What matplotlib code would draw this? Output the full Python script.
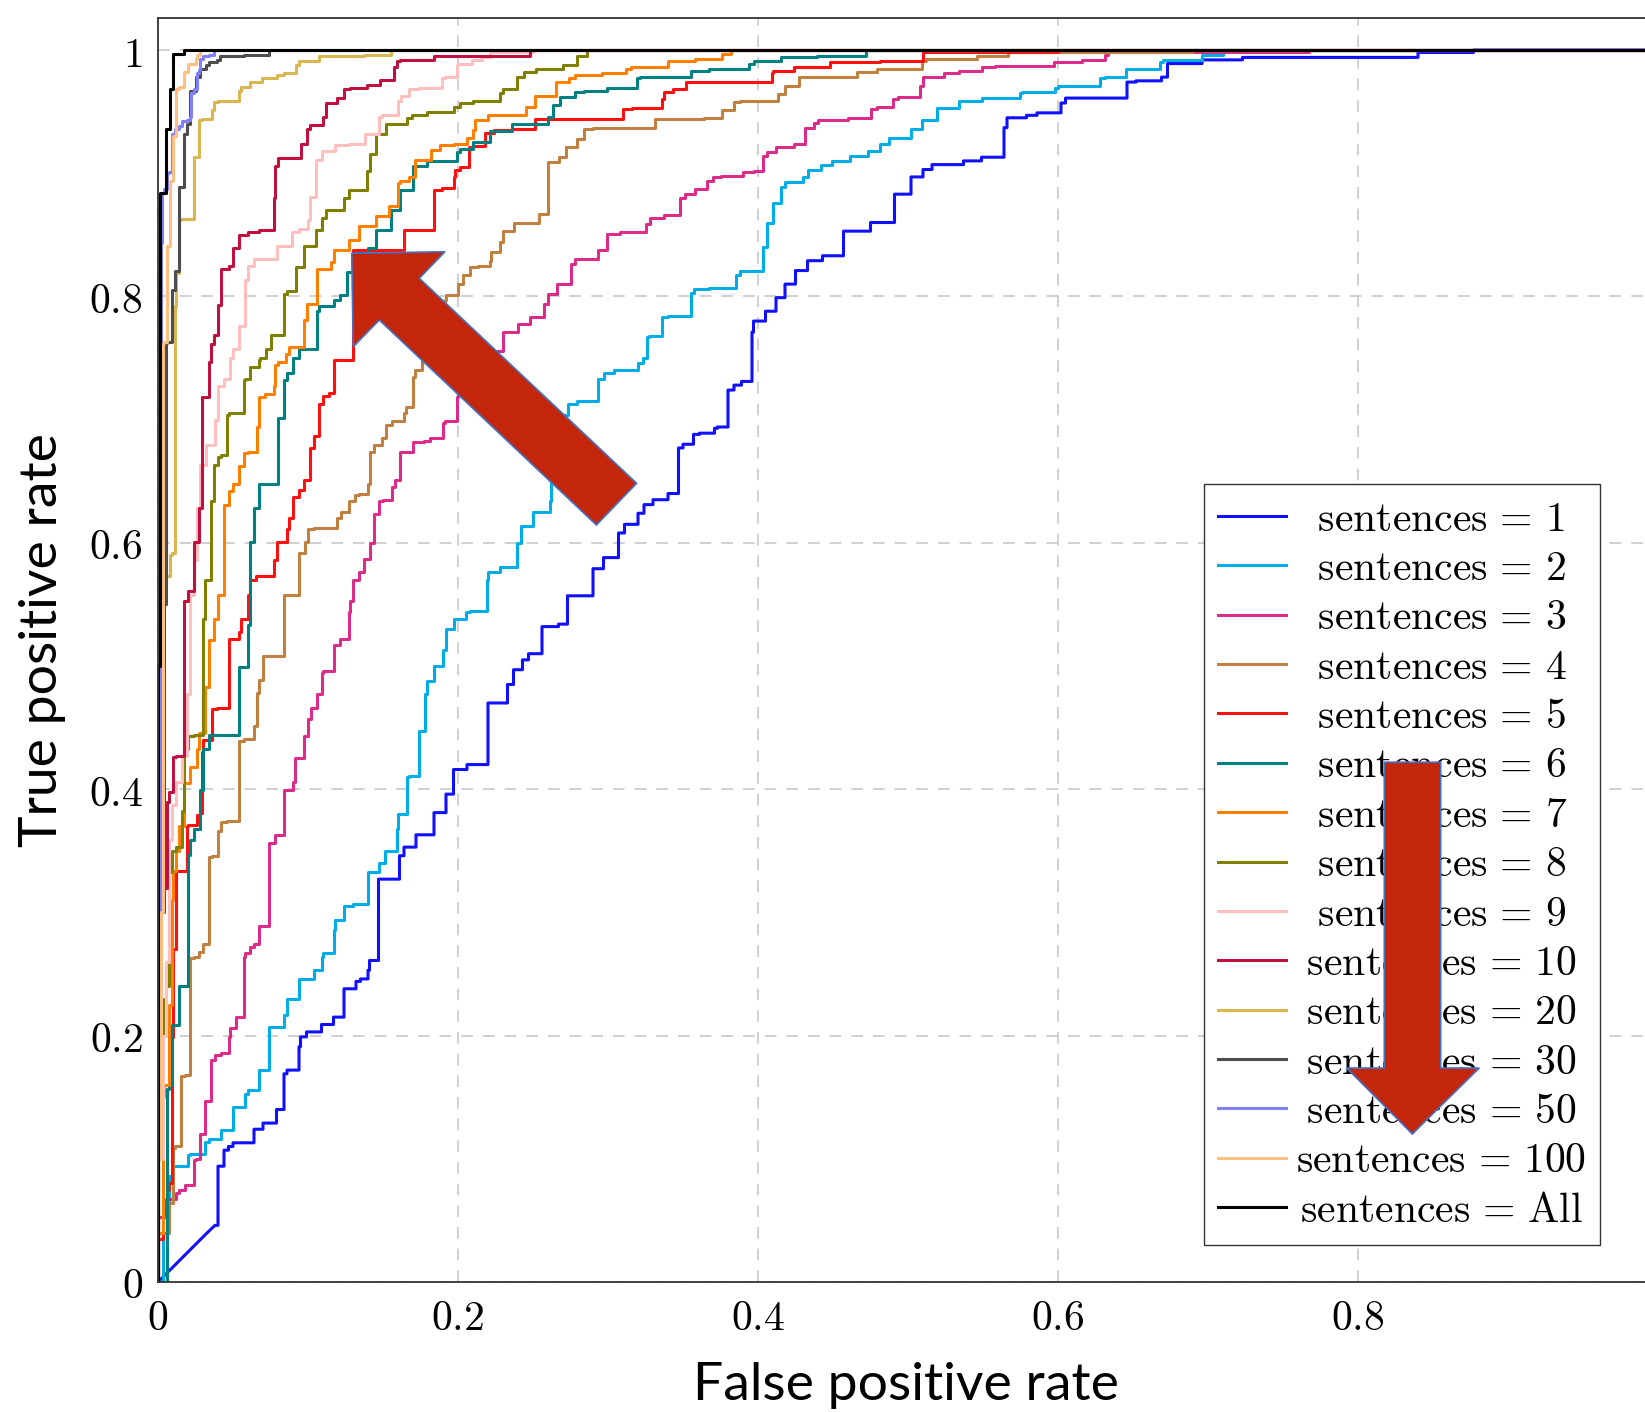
import matplotlib
matplotlib.use('Agg')
import matplotlib.pyplot as plt
import numpy as np
from matplotlib.patches import Polygon

plt.rcParams['mathtext.fontset'] = 'cm'

# ROC curves, (false positive rate, true positive rate) vertices
roc_1 = [(0, 0), (0.032, 0.039), (0.038, 0.046), (0.040, 0.046), (0.040, 0.083), (0.044, 0.094), (0.047, 0.107),
         (0.050, 0.110), (0.064, 0.113), (0.070, 0.124), (0.079, 0.129), (0.084, 0.140), (0.086, 0.169), (0.094, 0.172),
         (0.095, 0.191), (0.099, 0.199), (0.109, 0.203), (0.117, 0.209), (0.124, 0.215), (0.124, 0.226), (0.132, 0.238),
         (0.135, 0.244), (0.140, 0.246), (0.141, 0.253), (0.147, 0.261), (0.147, 0.294), (0.149, 0.327), (0.161, 0.327),
         (0.164, 0.346), (0.172, 0.353), (0.184, 0.363), (0.192, 0.381), (0.197, 0.396), (0.206, 0.416), (0.220, 0.420),
         (0.220, 0.465), (0.233, 0.470), (0.237, 0.485), (0.243, 0.497), (0.247, 0.505), (0.256, 0.510), (0.256, 0.521),
         (0.267, 0.532), (0.273, 0.534), (0.273, 0.554), (0.290, 0.557), (0.290, 0.577), (0.297, 0.579), (0.299, 0.588),
         (0.307, 0.588), (0.307, 0.600), (0.311, 0.608), (0.320, 0.615), (0.324, 0.624), (0.330, 0.631), (0.340, 0.635),
         (0.347, 0.640), (0.347, 0.671), (0.350, 0.677), (0.357, 0.680), (0.361, 0.688), (0.371, 0.689), (0.373, 0.693),
         (0.380, 0.694), (0.380, 0.715), (0.384, 0.724), (0.389, 0.728), (0.396, 0.731), (0.397, 0.771), (0.405, 0.780),
         (0.412, 0.788), (0.418, 0.799), (0.425, 0.810), (0.433, 0.821), (0.443, 0.829), (0.457, 0.833), (0.457, 0.848),
         (0.475, 0.853), (0.484, 0.860), (0.491, 0.860), (0.491, 0.875), (0.502, 0.883), (0.510, 0.897), (0.516, 0.903),
         (0.537, 0.907), (0.549, 0.910), (0.564, 0.913), (0.566, 0.937), (0.579, 0.945), (0.586, 0.947), (0.602, 0.949),
         (0.605, 0.957), (0.616, 0.961), (0.646, 0.961), (0.646, 0.967), (0.652, 0.974), (0.669, 0.975), (0.673, 0.978),
         (0.673, 0.989), (0.696, 0.989), (0.697, 0.992), (0.723, 0.992), (0.728, 0.994), (0.840, 0.994), (0.840, 0.998),
         (0.877, 0.998), (0.880, 1.0), (1.0, 1.0)]
roc_2 = [(0, 0), (0.003, 0.0), (0.005, 0.040), (0.007, 0.040), (0.010, 0.086), (0.020, 0.094), (0.021, 0.103),
         (0.031, 0.104), (0.034, 0.114), (0.042, 0.116), (0.045, 0.123), (0.050, 0.123), (0.050, 0.140), (0.058, 0.142),
         (0.060, 0.153), (0.067, 0.156), (0.074, 0.172), (0.074, 0.202), (0.078, 0.207), (0.084, 0.207), (0.086, 0.217),
         (0.086, 0.229), (0.094, 0.230), (0.094, 0.244), (0.104, 0.246), (0.109, 0.253), (0.110, 0.264), (0.117, 0.267),
         (0.118, 0.286), (0.124, 0.294), (0.130, 0.305), (0.140, 0.307), (0.140, 0.327), (0.147, 0.333), (0.151, 0.340),
         (0.159, 0.350), (0.160, 0.368), (0.166, 0.380), (0.167, 0.410), (0.174, 0.411), (0.174, 0.446), (0.178, 0.447),
         (0.179, 0.477), (0.184, 0.488), (0.190, 0.500), (0.192, 0.513), (0.197, 0.530), (0.205, 0.538), (0.208, 0.544),
         (0.219, 0.545), (0.220, 0.570), (0.228, 0.576), (0.239, 0.580), (0.242, 0.600), (0.250, 0.614), (0.252, 0.625),
         (0.261, 0.625), (0.262, 0.634), (0.264, 0.651), (0.268, 0.680), (0.273, 0.704), (0.279, 0.713), (0.293, 0.715),
         (0.297, 0.733), (0.304, 0.738), (0.320, 0.740), (0.323, 0.746), (0.326, 0.750), (0.327, 0.767), (0.336, 0.768),
         (0.340, 0.783), (0.355, 0.784), (0.357, 0.803), (0.367, 0.806), (0.385, 0.807), (0.388, 0.817), (0.403, 0.821),
         (0.406, 0.840), (0.410, 0.860), (0.415, 0.876), (0.418, 0.889), (0.430, 0.893), (0.433, 0.897), (0.442, 0.903),
         (0.449, 0.907), (0.461, 0.910), (0.473, 0.914), (0.481, 0.918), (0.487, 0.924), (0.502, 0.929), (0.509, 0.936),
         (0.519, 0.943), (0.534, 0.953), (0.549, 0.959), (0.561, 0.961), (0.575, 0.961), (0.576, 0.965), (0.598, 0.966),
         (0.600, 0.969), (0.609, 0.971), (0.628, 0.971), (0.631, 0.977), (0.645, 0.978), (0.646, 0.985), (0.668, 0.985),
         (0.670, 0.990), (0.696, 0.992), (0.696, 0.994), (0.710, 0.996), (0.712, 1.0), (1.0, 1.0)]
roc_3 = [(0, 0), (0.005, 0.053), (0.012, 0.067), (0.014, 0.072), (0.018, 0.075), (0.021, 0.079), (0.024, 0.079),
         (0.025, 0.099), (0.028, 0.100), (0.028, 0.119), (0.031, 0.120), (0.031, 0.146), (0.035, 0.147), (0.035, 0.160),
         (0.038, 0.180), (0.042, 0.184), (0.047, 0.186), (0.048, 0.199), (0.052, 0.206), (0.055, 0.215), (0.057, 0.215),
         (0.058, 0.264), (0.061, 0.267), (0.064, 0.272), (0.067, 0.274), (0.067, 0.286), (0.074, 0.289), (0.074, 0.346),
         (0.078, 0.356), (0.080, 0.363), (0.084, 0.363), (0.084, 0.387), (0.090, 0.399), (0.091, 0.406), (0.097, 0.425),
         (0.100, 0.443), (0.102, 0.457), (0.106, 0.466), (0.109, 0.477), (0.110, 0.494), (0.117, 0.496), (0.117, 0.513),
         (0.121, 0.517), (0.127, 0.522), (0.128, 0.544), (0.130, 0.553), (0.134, 0.570), (0.137, 0.576), (0.141, 0.587),
         (0.144, 0.600), (0.147, 0.623), (0.150, 0.634), (0.156, 0.635), (0.158, 0.645), (0.161, 0.651), (0.161, 0.662),
         (0.170, 0.674), (0.177, 0.682), (0.181, 0.683), (0.190, 0.685), (0.191, 0.697), (0.199, 0.699), (0.200, 0.718),
         (0.215, 0.735), (0.230, 0.756), (0.240, 0.771), (0.248, 0.778), (0.257, 0.783), (0.260, 0.794), (0.266, 0.802),
         (0.275, 0.810), (0.278, 0.826), (0.293, 0.830), (0.299, 0.838), (0.308, 0.851), (0.325, 0.852), (0.328, 0.859),
         (0.337, 0.864), (0.348, 0.866), (0.351, 0.880), (0.358, 0.883), (0.366, 0.887), (0.370, 0.894), (0.375, 0.897),
         (0.390, 0.898), (0.397, 0.901), (0.403, 0.902), (0.406, 0.914), (0.412, 0.917), (0.424, 0.921), (0.431, 0.924),
         (0.431, 0.935), (0.437, 0.937), (0.440, 0.941), (0.460, 0.943), (0.475, 0.945), (0.479, 0.952), (0.490, 0.954),
         (0.493, 0.960), (0.508, 0.962), (0.510, 0.971), (0.524, 0.978), (0.534, 0.981), (0.549, 0.983), (0.558, 0.986),
         (0.597, 0.987), (0.616, 0.990), (0.631, 0.992), (0.633, 0.996), (0.767, 0.998), (0.770, 1.0), (1.0, 1.0)]
roc_4 = [(0, 0), (0.005, 0.040), (0.007, 0.040), (0.007, 0.064), (0.010, 0.064), (0.011, 0.109), (0.015, 0.110),
         (0.015, 0.160), (0.018, 0.167), (0.021, 0.168), (0.021, 0.213), (0.024, 0.263), (0.027, 0.264), (0.030, 0.268),
         (0.034, 0.274), (0.034, 0.312), (0.036, 0.345), (0.040, 0.346), (0.042, 0.366), (0.046, 0.373), (0.054, 0.374),
         (0.054, 0.427), (0.057, 0.439), (0.064, 0.441), (0.066, 0.451), (0.067, 0.478), (0.070, 0.489), (0.072, 0.508),
         (0.084, 0.508), (0.084, 0.534), (0.087, 0.558), (0.094, 0.558), (0.094, 0.584), (0.098, 0.592), (0.100, 0.601),
         (0.104, 0.611), (0.119, 0.612), (0.122, 0.620), (0.127, 0.625), (0.131, 0.634), (0.134, 0.639), (0.140, 0.640),
         (0.141, 0.648), (0.144, 0.674), (0.149, 0.679), (0.152, 0.685), (0.156, 0.696), (0.164, 0.699), (0.165, 0.705),
         (0.170, 0.710), (0.171, 0.735), (0.176, 0.740), (0.178, 0.748), (0.181, 0.754), (0.186, 0.760), (0.191, 0.770),
         (0.192, 0.797), (0.200, 0.801), (0.203, 0.810), (0.208, 0.817), (0.213, 0.824), (0.221, 0.825), (0.222, 0.829),
         (0.228, 0.836), (0.230, 0.844), (0.237, 0.853), (0.242, 0.860), (0.254, 0.860), (0.260, 0.867), (0.260, 0.906),
         (0.267, 0.909), (0.272, 0.913), (0.279, 0.921), (0.284, 0.928), (0.290, 0.936), (0.331, 0.937), (0.364, 0.944),
         (0.376, 0.945), (0.384, 0.951), (0.388, 0.958), (0.413, 0.959), (0.418, 0.964), (0.427, 0.971), (0.430, 0.978),
         (0.466, 0.978), (0.479, 0.982), (0.509, 0.985), (0.512, 0.991), (0.546, 0.993), (0.567, 0.995), (0.570, 0.998),
         (0.690, 0.998), (0.695, 1.0), (1.0, 1.0)]
roc_5 = [(0, 0), (0.003, 0.035), (0.006, 0.056), (0.007, 0.075), (0.009, 0.080), (0.010, 0.199), (0.011, 0.270),
         (0.012, 0.270), (0.014, 0.334), (0.019, 0.334), (0.020, 0.370), (0.026, 0.371), (0.028, 0.379), (0.029, 0.381),
         (0.030, 0.430), (0.036, 0.440), (0.039, 0.465), (0.047, 0.466), (0.047, 0.521), (0.054, 0.522), (0.055, 0.528),
         (0.060, 0.538), (0.061, 0.558), (0.065, 0.570), (0.071, 0.573), (0.077, 0.573), (0.079, 0.586), (0.080, 0.601),
         (0.086, 0.601), (0.087, 0.611), (0.090, 0.620), (0.094, 0.637), (0.097, 0.643), (0.101, 0.651), (0.104, 0.677),
         (0.107, 0.687), (0.110, 0.713), (0.114, 0.719), (0.117, 0.722), (0.117, 0.747), (0.130, 0.748), (0.130, 0.838),
         (0.164, 0.838), (0.164, 0.849), (0.170, 0.854), (0.184, 0.854), (0.184, 0.884), (0.189, 0.886), (0.197, 0.888),
         (0.198, 0.897), (0.201, 0.903), (0.207, 0.905), (0.210, 0.921), (0.218, 0.922), (0.224, 0.933), (0.236, 0.935),
         (0.251, 0.936), (0.273, 0.944), (0.310, 0.944), (0.316, 0.952), (0.336, 0.953), (0.337, 0.960), (0.343, 0.966),
         (0.352, 0.968), (0.360, 0.974), (0.409, 0.974), (0.410, 0.981), (0.424, 0.983), (0.448, 0.986), (0.481, 0.990),
         (0.510, 0.991), (0.510, 0.997), (0.600, 0.998), (0.605, 1.0), (1.0, 1.0)]
roc_6 = [(0, 0), (0.006, 0.0), (0.006, 0.075), (0.007, 0.157), (0.009, 0.160), (0.009, 0.206), (0.014, 0.209),
         (0.014, 0.240), (0.020, 0.240), (0.021, 0.347), (0.024, 0.359), (0.028, 0.368), (0.030, 0.399), (0.034, 0.433),
         (0.041, 0.444), (0.054, 0.444), (0.054, 0.497), (0.060, 0.499), (0.061, 0.533), (0.064, 0.601), (0.067, 0.628),
         (0.070, 0.648), (0.080, 0.648), (0.080, 0.674), (0.084, 0.701), (0.086, 0.732), (0.090, 0.738), (0.094, 0.750),
         (0.106, 0.757), (0.107, 0.788), (0.117, 0.792), (0.121, 0.797), (0.126, 0.801), (0.132, 0.820), (0.140, 0.835),
         (0.145, 0.839), (0.155, 0.854), (0.161, 0.870), (0.170, 0.886), (0.179, 0.906), (0.199, 0.910), (0.201, 0.917),
         (0.210, 0.920), (0.221, 0.925), (0.236, 0.934), (0.260, 0.940), (0.263, 0.946), (0.268, 0.955), (0.278, 0.962),
         (0.284, 0.966), (0.299, 0.967), (0.319, 0.969), (0.321, 0.977), (0.355, 0.978), (0.367, 0.983), (0.394, 0.985),
         (0.397, 0.989), (0.415, 0.991), (0.439, 0.994), (0.472, 0.995), (0.475, 1.0), (1.0, 1.0)]
roc_7 = [(0, 0), (0.003, 0.040), (0.004, 0.150), (0.007, 0.160), (0.007, 0.220), (0.009, 0.225), (0.010, 0.310),
         (0.012, 0.334), (0.014, 0.350), (0.017, 0.370), (0.021, 0.405), (0.026, 0.418), (0.027, 0.433), (0.031, 0.446),
         (0.034, 0.483), (0.037, 0.521), (0.040, 0.538), (0.044, 0.558), (0.047, 0.631), (0.050, 0.642), (0.054, 0.648),
         (0.057, 0.662), (0.060, 0.673), (0.066, 0.674), (0.067, 0.694), (0.071, 0.718), (0.077, 0.721), (0.078, 0.727),
         (0.080, 0.744), (0.085, 0.747), (0.087, 0.753), (0.097, 0.759), (0.099, 0.781), (0.106, 0.794), (0.115, 0.822),
         (0.117, 0.828), (0.122, 0.838), (0.127, 0.838), (0.134, 0.846), (0.145, 0.857), (0.154, 0.865), (0.160, 0.873),
         (0.161, 0.892), (0.167, 0.894), (0.171, 0.897), (0.182, 0.911), (0.188, 0.919), (0.197, 0.923), (0.206, 0.924),
         (0.210, 0.929), (0.211, 0.935), (0.220, 0.943), (0.245, 0.947), (0.251, 0.954), (0.265, 0.963), (0.274, 0.974),
         (0.278, 0.977), (0.296, 0.980), (0.312, 0.981), (0.315, 0.985), (0.340, 0.986), (0.358, 0.991), (0.376, 0.993),
         (0.382, 0.997), (0.385, 1.0), (1.0, 1.0)]
roc_8 = [(0, 0), (0.002, 0.190), (0.004, 0.200), (0.005, 0.230), (0.007, 0.240), (0.007, 0.270), (0.009, 0.333),
         (0.012, 0.350), (0.016, 0.353), (0.017, 0.382), (0.020, 0.433), (0.024, 0.443), (0.030, 0.444), (0.031, 0.538),
         (0.035, 0.570), (0.037, 0.634), (0.040, 0.663), (0.042, 0.670), (0.046, 0.671), (0.047, 0.704), (0.057, 0.705),
         (0.058, 0.732), (0.061, 0.733), (0.067, 0.743), (0.068, 0.748), (0.072, 0.750), (0.075, 0.757), (0.084, 0.769),
         (0.086, 0.802), (0.092, 0.804), (0.097, 0.824), (0.105, 0.841), (0.109, 0.854), (0.112, 0.864), (0.124, 0.870),
         (0.127, 0.880), (0.139, 0.886), (0.141, 0.902), (0.145, 0.916), (0.152, 0.932), (0.166, 0.940), (0.169, 0.945),
         (0.179, 0.947), (0.197, 0.950), (0.201, 0.954), (0.210, 0.957), (0.228, 0.959), (0.230, 0.965), (0.239, 0.968),
         (0.244, 0.978), (0.252, 0.982), (0.270, 0.985), (0.279, 0.988), (0.286, 0.995), (0.290, 1.0), (1.0, 1.0)]
roc_9 = [(0, 0), (0.003, 0.100), (0.005, 0.200), (0.007, 0.260), (0.009, 0.359), (0.012, 0.387), (0.016, 0.406),
         (0.019, 0.427), (0.021, 0.477), (0.024, 0.558), (0.026, 0.586), (0.028, 0.628), (0.032, 0.663), (0.038, 0.679),
         (0.040, 0.700), (0.044, 0.727), (0.048, 0.733), (0.050, 0.750), (0.054, 0.757), (0.058, 0.776), (0.060, 0.813),
         (0.064, 0.825), (0.079, 0.830), (0.089, 0.841), (0.094, 0.852), (0.100, 0.855), (0.101, 0.862), (0.105, 0.881),
         (0.109, 0.911), (0.118, 0.918), (0.127, 0.923), (0.138, 0.924), (0.147, 0.932), (0.149, 0.946), (0.160, 0.947),
         (0.162, 0.959), (0.167, 0.963), (0.174, 0.968), (0.189, 0.969), (0.191, 0.977), (0.199, 0.978), (0.200, 0.988),
         (0.209, 0.989), (0.216, 0.992), (0.221, 0.994), (0.250, 0.998), (0.255, 1.0), (1.0, 1.0)]
roc_10 = [(0, 0), (0.002, 0.236), (0.002, 0.300), (0.006, 0.320), (0.007, 0.390), (0.010, 0.398), (0.012, 0.426),
          (0.017, 0.427), (0.017, 0.547), (0.020, 0.553), (0.024, 0.561), (0.027, 0.601), (0.029, 0.628), (0.030, 0.718),
          (0.034, 0.718), (0.035, 0.747), (0.037, 0.761), (0.040, 0.769), (0.042, 0.793), (0.047, 0.822), (0.050, 0.825),
          (0.054, 0.839), (0.060, 0.850), (0.067, 0.852), (0.077, 0.854), (0.078, 0.880), (0.080, 0.906), (0.084, 0.912),
          (0.095, 0.912), (0.099, 0.924), (0.101, 0.936), (0.110, 0.939), (0.112, 0.946), (0.119, 0.957), (0.124, 0.961),
          (0.128, 0.968), (0.139, 0.969), (0.148, 0.972), (0.157, 0.976), (0.159, 0.986), (0.161, 0.991), (0.184, 0.992),
          (0.188, 0.995), (0.248, 0.995), (0.250, 1.0), (1.0, 1.0)]
roc_20 = [(0, 0), (0.003, 0.300), (0.005, 0.570), (0.008, 0.573), (0.009, 0.590), (0.011, 0.592), (0.011, 0.786),
          (0.012, 0.792), (0.014, 0.819), (0.015, 0.862), (0.024, 0.863), (0.024, 0.905), (0.027, 0.913), (0.029, 0.943),
          (0.036, 0.944), (0.037, 0.951), (0.040, 0.958), (0.054, 0.959), (0.055, 0.967), (0.061, 0.970), (0.069, 0.974),
          (0.079, 0.977), (0.084, 0.980), (0.092, 0.981), (0.094, 0.988), (0.107, 0.991), (0.137, 0.995), (0.155, 0.996),
          (0.160, 1.0), (1.0, 1.0)]
roc_30 = [(0, 0), (0.004, 0.300), (0.005, 0.550), (0.006, 0.762), (0.009, 0.763), (0.009, 0.802), (0.011, 0.805),
          (0.011, 0.821), (0.014, 0.821), (0.014, 0.886), (0.017, 0.889), (0.017, 0.929), (0.019, 0.932), (0.019, 0.939),
          (0.021, 0.940), (0.025, 0.967), (0.028, 0.978), (0.032, 0.985), (0.034, 0.988), (0.039, 0.990), (0.041, 0.992),
          (0.057, 0.995), (0.059, 0.996), (0.074, 0.996), (0.076, 1.0), (1.0, 1.0)]
roc_50 = [(0, 0), (0.002, 0.300), (0.002, 0.500), (0.0025, 0.843), (0.004, 0.884), (0.006, 0.887), (0.007, 0.900),
          (0.009, 0.901), (0.009, 0.930), (0.011, 0.932), (0.014, 0.936), (0.016, 0.938), (0.019, 0.942), (0.021, 0.943),
          (0.022, 0.946), (0.024, 0.965), (0.026, 0.968), (0.027, 0.981), (0.028, 0.984), (0.030, 0.993), (0.034, 0.995),
          (0.037, 0.996), (0.040, 1.0), (1.0, 1.0)]
roc_100 = [(0, 0), (0.002, 0.100), (0.003, 0.300), (0.0035, 0.500), (0.004, 0.762), (0.006, 0.763), (0.006, 0.840),
           (0.008, 0.841), (0.008, 0.892), (0.010, 0.894), (0.010, 0.927), (0.012, 0.930), (0.014, 0.968),
           (0.017, 0.970), (0.017, 0.980), (0.020, 0.982), (0.020, 0.988), (0.025, 0.989), (0.026, 0.993),
           (0.028, 0.996), (0.030, 1.0), (1.0, 1.0)]
roc_all = [(0, 0), (0.001, 0.500), (0.0025, 0.884), (0.005, 0.884), (0.005, 0.935), (0.008, 0.936), (0.008, 0.965),
           (0.010, 0.968), (0.010, 0.988), (0.017, 0.997), (0.020, 1.0), (1.0, 1.0)]

sentences = ['1', '2', '3', '4', '5', '6', '7', '8', '9', '10', '20', '30', '50', '100', 'All']
curves = [roc_1, roc_2, roc_3, roc_4, roc_5, roc_6, roc_7, roc_8, roc_9, roc_10,
          roc_20, roc_30, roc_50, roc_100, roc_all]
colors = ['#1010ff', '#00ade6', '#dc2c8a', '#bf8040', '#ff1010', '#008080', '#ff8000', '#808000',
          '#ffbfbf', '#bf1040', '#d9b650', '#4d4d4d', '#8080ff', '#ffbf80', '#000000']
# segments that are straight ties (drawn diagonal, not as a step)
diagonal_segments = {'1': {0, 1}}

x_ticks = [0, 0.2, 0.4, 0.6, 0.8]
y_ticks = [0, 0.2, 0.4, 0.6, 0.8, 1.0]
x_tick_labels = ['0', '0.2', '0.4', '0.6', '0.8']
y_tick_labels = ['0', '0.2', '0.4', '0.6', '0.8', '1']


def staircase(pts, diagonal=()):
    """ROC step path: go up first, then right (except tie segments)."""
    xs, ys = [pts[0][0]], [pts[0][1]]
    for i in range(1, len(pts)):
        x0, y0 = pts[i - 1]
        x1, y1 = pts[i]
        if i - 1 not in diagonal:
            xs.append(x0)
            ys.append(y1)
        xs.append(x1)
        ys.append(y1)
    return np.array(xs), np.array(ys)


W, H = 1645, 1412
fig = plt.figure(figsize=(W / 100, H / 100), dpi=100)
ax = fig.add_axes([158 / W, 130 / H, 1500 / W, 1264 / H])

# padding so that the legend texts look centred like in pgfplots
pad = {1: r'\hspace{0.6}', 2: r'\hspace{0.3}', 3: ''}
eq = r'\hspace{0.15}=\hspace{0.15}'
tail = r'\hspace{0.27}'
for name, pts, col in zip(sentences, curves, colors):
    xs, ys = staircase(pts, diagonal_segments.get(name, ()))
    if name == 'All':
        lab = r'$\hspace{0.12}\mathrm{sentences}%s\mathrm{All}%s$' % (eq, tail)
    else:
        p = pad[len(name)]
        lab = r'$%s\mathrm{sentences}%s%s%s%s$' % (p, eq, name, p, tail)
    ax.plot(xs, ys, color=col, lw=2.2, label=lab)

ax.set_xlim(0, 1.0)
ax.set_ylim(0, 1.026)
ax.set_xticks(x_ticks, labels=['$%s$' % t for t in x_tick_labels])
ax.set_yticks(y_ticks, labels=['$%s$' % t for t in y_tick_labels])
ax.tick_params(length=0, pad=11, labelsize=30)
ax.grid(True, linestyle=(0, (7, 6)), linewidth=1.2, color='#c8c8c8')
ax.set_axisbelow(True)
for sp in ax.spines.values():
    sp.set_linewidth(1.3)
    sp.set_color('#333333')

ax.set_xlabel('False positive rate', fontsize=38.5, family='Lato')
ax.set_ylabel('True positive rate', fontsize=38.5, family='Lato')
ax.xaxis.set_label_coords(0.4987, -0.0815)
ax.yaxis.set_label_coords(-0.0773, 0.508)
ax.xaxis.label.set_va('center')
ax.yaxis.label.set_va('center')

leg = ax.legend(loc='upper left', bbox_to_anchor=(0.6976, 0.6315), borderaxespad=0,
                fancybox=False, framealpha=1, edgecolor='#333333', fontsize=30,
                handlelength=1.63, handletextpad=0.25, labelspacing=0.177, borderpad=0.33)
leg.get_frame().set_linewidth(1.0)


# the two red arrows drawn over the chart (pixel positions in the picture)
def to_fig(pts):
    return [(x / W, 1 - y / H) for x, y in pts]


big_arrow = [(351.7, 253.3), (445, 251.7), (419.3, 278.3), (636.6, 483.3),
             (596.4, 525), (379.3, 320), (353.3, 346.7)]
down_arrow = [(1384.3, 762.2), (1440.7, 762.2), (1440.7, 1068), (1479.3, 1068),
              (1412.3, 1134), (1346.7, 1068), (1384.3, 1068)]
for shape in (big_arrow, down_arrow):
    fig.add_artist(Polygon(to_fig(shape), closed=True, transform=fig.transFigure,
                           facecolor='#c3260a', edgecolor='#4472c4', lw=1.2, zorder=10))

fig.savefig('out.png', dpi=100)
